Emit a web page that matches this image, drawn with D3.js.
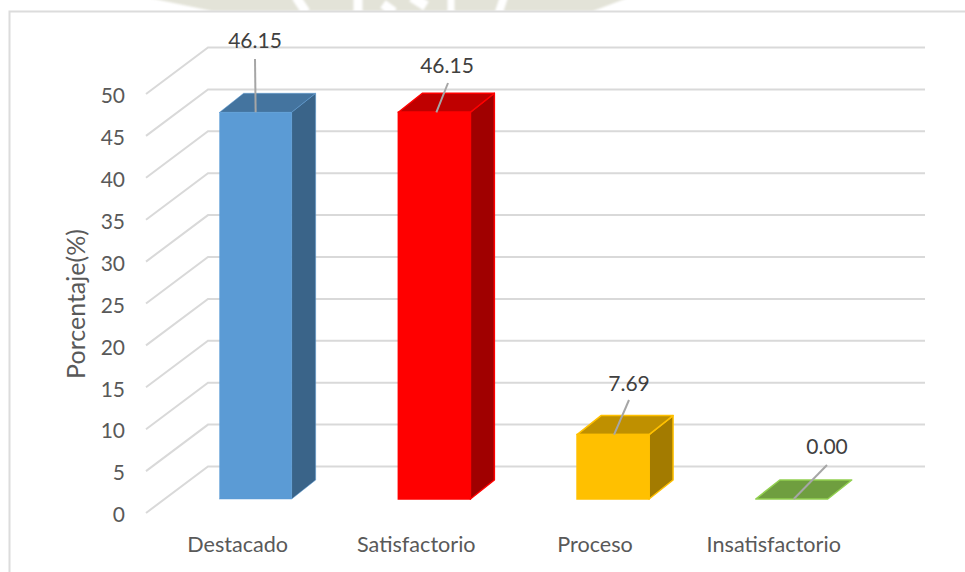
<!DOCTYPE html>
<html><head><meta charset="utf-8">
<script src="https://cdn.jsdelivr.net/npm/d3@7"></script>
<style>html,body{margin:0;padding:0;background:#fff}svg{display:block}text{font-family:Lato,"Open Sans",sans-serif}</style>
</head><body><div id="chart"></div>
<script>
const categories = ["Destacado","Satisfactorio","Proceso","Insatisfactorio"];
const values = [46.15,46.15,7.69,0.00];
const yTicks = [0,5,10,15,20,25,30,35,40,45,50];
const yTitle = "Porcentaje(%)";
const frontColors = ["#5b9bd5","#ff0000","#ffc000","#70ad47"];
const sideColors = ["#3a6489","#a00000","#a37b00","#70ad47"];
const topColors = ["#44749f","#bf0000","#bf9000","#6f9e3f"];
const edgeColors = ["#5b9bd5","#ff0000","#ffc000","#92d050"];
const labelAnchors = [[255,40,255,59],[447,65,448,83],[629,383,629,400],[827,446,827,465]];

const W=965,H=572;
const svg=d3.select("#chart").append("svg").attr("width",W).attr("height",H);
svg.append("rect").attr("width",W).attr("height",H).attr("fill","#fff");
const defs=svg.append("defs");
defs.append("filter").attr("id","soft").append("feGaussianBlur").attr("stdDeviation",0.8);

// faint watermark strip above the frame
const wm=svg.append("g").attr("filter","url(#soft)");
wm.append("path").attr("d","M145,-3L212,11L593,11L630,-3Z").attr("fill","#e3e3d8");
[[296,-3,306,12,9],[358,-3,358,12,9],[383,4,394,12,9],[412,-3,426,6,10],[451,-3,451,12,7],[504,-3,499,12,8]].forEach(d=>{
  wm.append("line").attr("x1",d[0]).attr("y1",d[1]).attr("x2",d[2]).attr("y2",d[3]).attr("stroke","#fff").attr("stroke-width",d[4]);
});
svg.append("rect").attr("x",0).attr("y",11).attr("width",W).attr("height",H).attr("fill","#fff");
svg.append("path").attr("d","M9.5,572V11.5H965").attr("fill","none").attr("stroke","#dcdcdc").attr("stroke-width",2);

const y=d3.scaleLinear().domain([0,50]).range([513,94]);
const wallDx=62, wallDy=46.5, plotRight=925;
const g=svg.append("g");
yTicks.forEach(t=>{
  const yy=y(t);
  g.append("path").attr("d",`M146,${yy}L${146+wallDx},${yy-wallDy}H${plotRight}`)
   .attr("fill","none").attr("stroke","#d9d9d9").attr("stroke-width",2);
});
const axis=d3.axisLeft(y).tickValues(yTicks).tickSize(0).tickPadding(0).tickFormat(d3.format("d"));
const ax=svg.append("g").attr("transform","translate(125,2)").call(axis);
ax.select(".domain").remove();
ax.selectAll("text").attr("font-size",21).attr("fill","#595959");

svg.append("text").attr("transform","translate(85,304) rotate(-90)").attr("text-anchor","middle")
  .attr("font-size",25).attr("fill","#595959").text(yTitle);

const x=d3.scaleBand().domain(categories).range([166.3,881.1]).paddingInner(0.597).paddingOuter(0.2985);
const floorY=y(0)-14, scale=v=>floorY-(y(0)-y(v));
const dx=24, dy=19;
const bars=svg.append("g").selectAll("g").data(categories).join("g");
bars.each(function(c,i){
  const s=d3.select(this), x0=x(c), x1=x0+x.bandwidth(), yt=scale(values[i]);
  const sw=i==0?0.5:1.5;
  if(values[i]>0){
    s.append("path").attr("d",`M${x1},${yt}L${x1+dx},${yt-dy}V${floorY-dy}L${x1},${floorY}Z`).attr("fill",sideColors[i]).attr("stroke",edgeColors[i]).attr("stroke-width",sw).attr("stroke-linejoin","round");
  }
  s.append("path").attr("d",`M${x0},${yt}L${x0+dx},${yt-dy}H${x1+dx}L${x1},${yt}Z`).attr("fill",topColors[i]).attr("stroke",edgeColors[i]).attr("stroke-width",sw).attr("stroke-linejoin","round");
  if(values[i]>0){
    s.append("rect").attr("x",x0).attr("y",yt).attr("width",x.bandwidth()).attr("height",floorY-yt).attr("fill",frontColors[i]).attr("stroke",edgeColors[i]).attr("stroke-width",sw);
  }
  svg.append("text").attr("x",x0+x.bandwidth()/2-18).attr("y",552).attr("text-anchor","middle").attr("font-size",21.6).attr("fill","#595959").text(c);
});
const barsTop=svg.append("g");
categories.forEach((c,i)=>{
  const a=labelAnchors[i], lx=x(c)+x.bandwidth()/2+(i==1?2:i==2?1:i==3?2:0), ly=scale(values[i]);
  barsTop.append("line").attr("x1",a[2]).attr("y1",a[3]).attr("x2",lx).attr("y2",ly).attr("stroke","#a6a6a6").attr("stroke-width",2);
  barsTop.append("text").attr("x",a[0]).attr("y",a[1]+8).attr("text-anchor","middle").attr("font-size",21).attr("fill","#404040").text(values[i].toFixed(2));
});
</script></body></html>
